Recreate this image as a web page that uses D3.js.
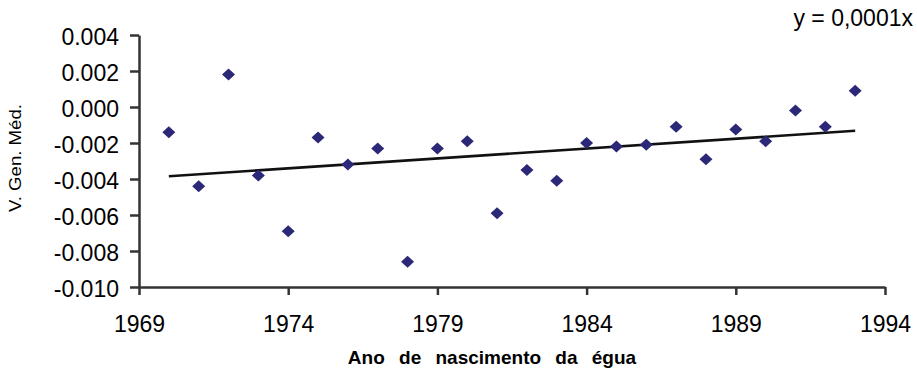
<html>
    <head>
        <style>
            body { margin: 0; background: #fff; }
            svg { display: block; }
            .chart text { font-family: Arial, "Liberation Sans", sans-serif; fill: #000; }
            .chart .axis path, .chart .axis line { stroke: #333; stroke-width: 2.5; }
        </style>
    </head>
    <body>
        <svg class="chart" width="917" height="369"></svg>
        <script src="https://cdn.jsdelivr.net/npm/d3@7"></script>
        <script>
            // Ano de nascimento da égua vs. V. Gen. Méd.
            var years = [1970, 1971, 1972, 1973, 1974, 1975, 1976, 1977, 1978, 1979, 1980, 1981,
                         1982, 1983, 1984, 1985, 1986, 1987, 1988, 1989, 1990, 1991, 1992, 1993];
            var values = [-0.0014, -0.0044, 0.0018, -0.0038, -0.0069, -0.0017, -0.0032, -0.0023,
                          -0.0086, -0.0023, -0.0019, -0.0059, -0.0035, -0.0041, -0.0020, -0.0022,
                          -0.0021, -0.0011, -0.0029, -0.00125, -0.0019, -0.0002, -0.0011, 0.0009];
            var xTicks = [1969, 1974, 1979, 1984, 1989, 1994];
            var yTicks = [-0.010, -0.008, -0.006, -0.004, -0.002, 0.000, 0.002, 0.004];

            var data = years.map(function(y, i) { return { year: y, value: values[i] }; });

            var xScale = d3.scaleLinear()
                .domain([1969, 1994])
                .range([139, 885]);

            var yScale = d3.scaleLinear()
                .domain([-0.010, 0.004])
                .range([287, 35]);

            var chart = d3.select('.chart');

            // y axis
            var yAxis = d3.axisLeft(yScale)
                .tickValues(yTicks)
                .tickFormat(function(d) { return d.toFixed(3); })
                .tickSize(9)
                .tickSizeOuter(0)
                .tickPadding(11);

            var yG = chart.append('g')
                .attr('class', 'axis')
                .attr('transform', 'translate(' + xScale(1969) + ',0)')
                .call(yAxis);
            yG.selectAll('text')
                .style('font-size', '23px')
                .attr('dy', '0.42em');

            // x axis
            var xAxis = d3.axisBottom(xScale)
                .tickValues(xTicks)
                .tickFormat(d3.format('d'))
                .tickSize(8)
                .tickSizeOuter(0)
                .tickPadding(21);

            var xG = chart.append('g')
                .attr('class', 'axis')
                .attr('transform', 'translate(0,' + yScale(-0.010) + ')')
                .call(xAxis);
            xG.selectAll('text')
                .style('font-size', '23px');

            // least squares trend line
            var mx = d3.mean(years), my = d3.mean(values);
            var sxy = d3.sum(data, function(d) { return (d.year - mx) * (d.value - my); });
            var sxx = d3.sum(data, function(d) { return (d.year - mx) * (d.year - mx); });
            var slope = sxy / sxx;
            var intercept = my - slope * mx;
            var ends = d3.extent(years);

            var line = d3.line()
                .x(function(d) { return xScale(d); })
                .y(function(d) { return yScale(intercept + slope * d); });

            chart.append('path')
                .datum(ends)
                .attr('d', line)
                .style('fill', 'none')
                .style('stroke', '#111')
                .style('stroke-width', 2.6);

            // diamond markers
            chart.selectAll('.pt')
                .data(data)
                .enter()
                .append('path')
                .attr('class', 'pt')
                .attr('transform', function(d) { return 'translate(' + xScale(d.year) + ',' + yScale(d.value) + ')'; })
                .attr('d', 'M0,-6L6.5,0L0,6L-6.5,0Z')
                .style('fill', '#2b2878');

            // titles
            chart.append('text')
                .attr('x', 492)
                .attr('y', 364)
                .attr('text-anchor', 'middle')
                .style('font-size', '19px')
                .style('font-weight', 'bold')
                .style('word-spacing', '9px')
                .text('Ano de nascimento da égua');

            chart.append('text')
                .attr('transform', 'translate(21,158) rotate(-90)')
                .attr('text-anchor', 'middle')
                .attr('textLength', 108)
                .attr('lengthAdjust', 'spacingAndGlyphs')
                .style('font-size', '17px')
                .text('V. Gen. Méd.');

            chart.append('text')
                .attr('x', 913)
                .attr('y', 26)
                .attr('text-anchor', 'end')
                .style('font-size', '23px')
                .text('y = 0,0001x');
        </script>
    </body>
</html>
